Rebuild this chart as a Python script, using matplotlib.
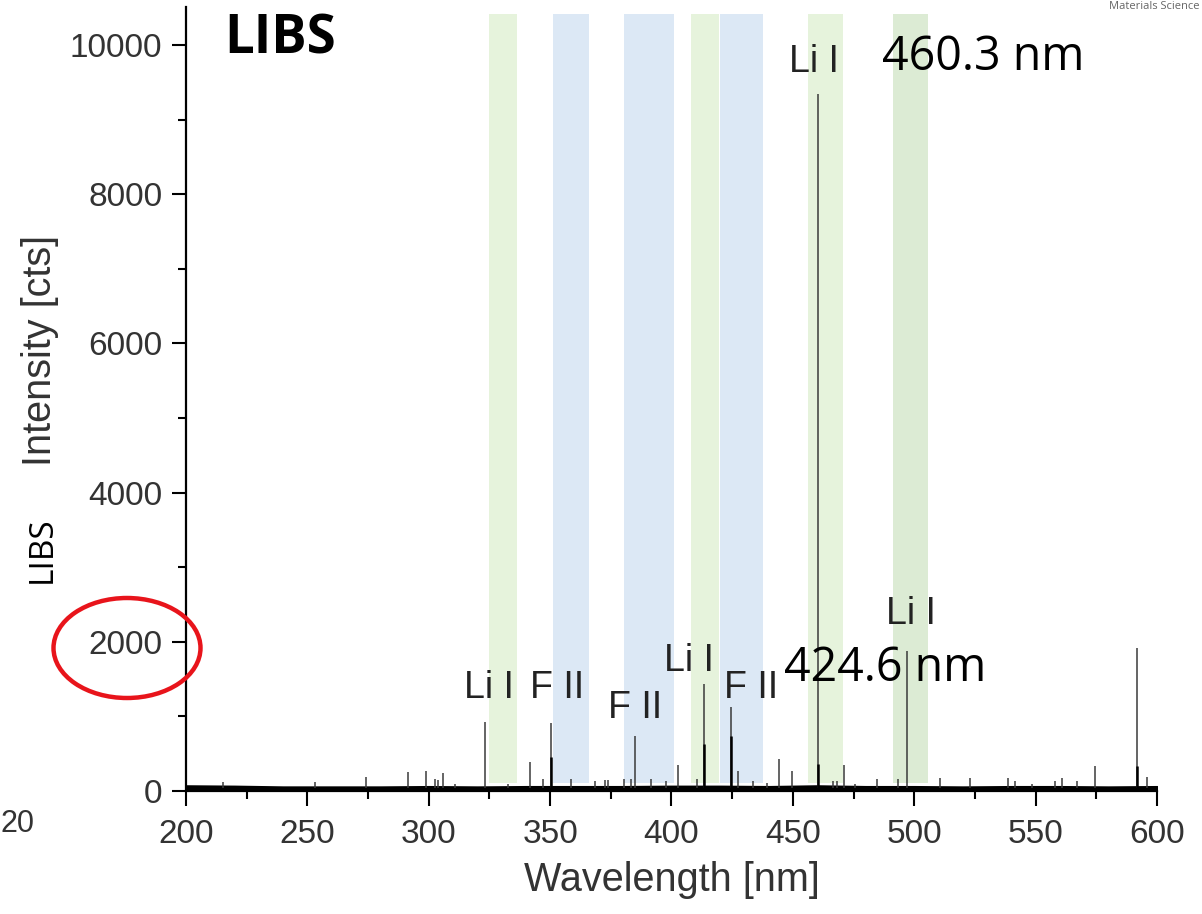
import matplotlib
matplotlib.use("Agg")
import matplotlib.pyplot as plt
from matplotlib.patches import Ellipse

# spectrum: baseline level (every ~20 nm) and emission lines
base_wl = [200, 220, 240, 260, 280, 300, 320, 340, 360, 380, 400, 420, 440, 460, 480, 500, 520, 540, 560, 580, 600]
base_val = [70, 65, 55, 55, 55, 60, 55, 60, 60, 60, 65, 65, 60, 70, 60, 60, 55, 60, 60, 55, 60]

line_wl = [215.4, 253.1, 274.0, 291.6, 298.7, 302.6, 304.0, 306.0, 310.8, 323.3, 332.8,
           341.7, 347.2, 350.2, 358.4, 368.5, 372.6, 373.8, 380.4, 383.2, 385.0, 391.4,
           397.6, 402.8, 410.4, 413.2, 424.6, 427.3, 433.7, 439.2, 444.4, 449.5, 460.3,
           466.7, 468.0, 471.0, 475.6, 484.8, 493.2, 497.2, 510.6, 523.0, 538.8, 541.5,
           548.4, 558.0, 560.8, 567.2, 574.5, 591.8, 596.0]
line_int = [125, 115, 184, 260, 270, 157, 150, 237, 100, 930, 100,
            393, 157, 915, 165, 140, 150, 150, 165, 165, 741, 165,
            140, 348, 165, 1434, 1130, 272, 140, 110, 425, 272, 9340,
            140, 140, 348, 100, 165, 165, 1880, 178, 178, 178, 130,
            100, 140, 178, 130, 335, 1920, 192]

# stronger cores of the blended lines
core_wl = [350.2, 413.2, 424.6, 460.3, 591.8]
core_int = [460, 625, 741, 357, 335]

# highlighted regions
green_bands = [(324.8, 336.4), (407.9, 419.7), (456.4, 470.5)]
blue_bands = [(351.3, 366.1), (380.4, 401.0), (420.0, 437.8)]
dark_green_bands = [(491.1, 505.8)]

peak_labels = ["Li I", "F II", "F II", "Li I", "F II", "Li I", "Li I"]
peak_label_x = [324.8, 352.8, 385.0, 407.2, 432.8, 458.7, 498.7]
peak_label_y = [1380, 1380, 1113, 1743, 1380, 9770, 2375]

fig = plt.figure(figsize=(12.02, 9.14), dpi=100)
ax = fig.add_axes([0.1547, 0.1346, 0.8079, 0.8577])

for a, b in green_bands:
    ax.axvspan(a, b, ymin=0.01, ymax=0.991, color="#e6f3dc", lw=0, zorder=0)
for a, b in blue_bands:
    ax.axvspan(a, b, ymin=0.01, ymax=0.991, color="#dce8f5", lw=0, zorder=0)
for a, b in dark_green_bands:
    ax.axvspan(a, b, ymin=0.01, ymax=0.991, color="#dcebd4", lw=0, zorder=0)

ax.fill_between(base_wl, 0, base_val, color="black", lw=1.5, zorder=2)
ax.vlines(line_wl, 40, line_int, color="#3a3a3a", lw=1.1, zorder=3)
ax.vlines(core_wl, 40, core_int, color="black", lw=1.8, zorder=3)

ax.set_xlim(200, 600)
ax.set_ylim(0, 10510)
ax.set_xticks(range(200, 601, 50))
ax.set_xticks(range(225, 600, 50), minor=True)
ax.set_yticks(range(0, 10001, 2000))
ax.set_yticks(range(1000, 10001, 2000), minor=True)

for s in ["top", "right"]:
    ax.spines[s].set_visible(False)
for s in ["left", "bottom"]:
    ax.spines[s].set_linewidth(1.6)

tick_font = "Liberation Sans"
ax.tick_params(axis="x", which="major", direction="out", length=11, width=1.5,
               pad=9, labelsize=24, labelcolor="#333333")
ax.tick_params(axis="y", which="major", direction="out", length=10, width=1.5,
               pad=7, labelsize=24, labelcolor="#333333")
ax.tick_params(which="minor", direction="out", length=6, width=1.5)
for lbl in ax.get_xticklabels() + ax.get_yticklabels():
    lbl.set_fontfamily(tick_font)

ax.set_xlabel("Wavelength [nm]", fontsize=28.5, family=tick_font, color="#333333", labelpad=8)
fig.text(40 / 1202, 1 - 350 / 914, "Intensity [cts]", rotation=90, ha="center", va="center",
         fontsize=28.5, family=tick_font, color="#333333")

for t, x, y in zip(peak_labels, peak_label_x, peak_label_y):
    ax.text(x, y, t, ha="center", va="center", fontsize=27, family=tick_font, color="#222222")

ax.text(238.7, 10070, "LIBS", ha="center", va="center", fontsize=38, fontweight="bold",
        family="Open Sans", color="black")
ax.text(528.3, 9840, "460.3 nm", ha="center", va="center", fontsize=33.5, family="Open Sans", color="black")
ax.text(488.0, 1650, "424.6 nm", ha="center", va="center", fontsize=33.5, family="Open Sans", color="black")

fig.text(42 / 1202, 1 - 550 / 914, "LIBS", rotation=90, ha="center", va="center",
         fontsize=24, family="Open Sans", color="black")

# red highlight around the 2000 tick
fig.patches.append(Ellipse((127 / 1202, 1 - 648 / 914), 147 / 1202, 100 / 914,
                           transform=fig.transFigure, fill=False, edgecolor="#e8141b", lw=3.2))

# neighbouring content from the slide
fig.text(1 / 1202, 1 - 824 / 914, "20", ha="left", va="center", fontsize=22,
         family=tick_font, color="#333333")
fig.text(0.998, 0.999, "Materials Science", ha="right", va="top", fontsize=8,
         family="Open Sans", color="#666666")

fig.savefig("out.png", dpi=100)
